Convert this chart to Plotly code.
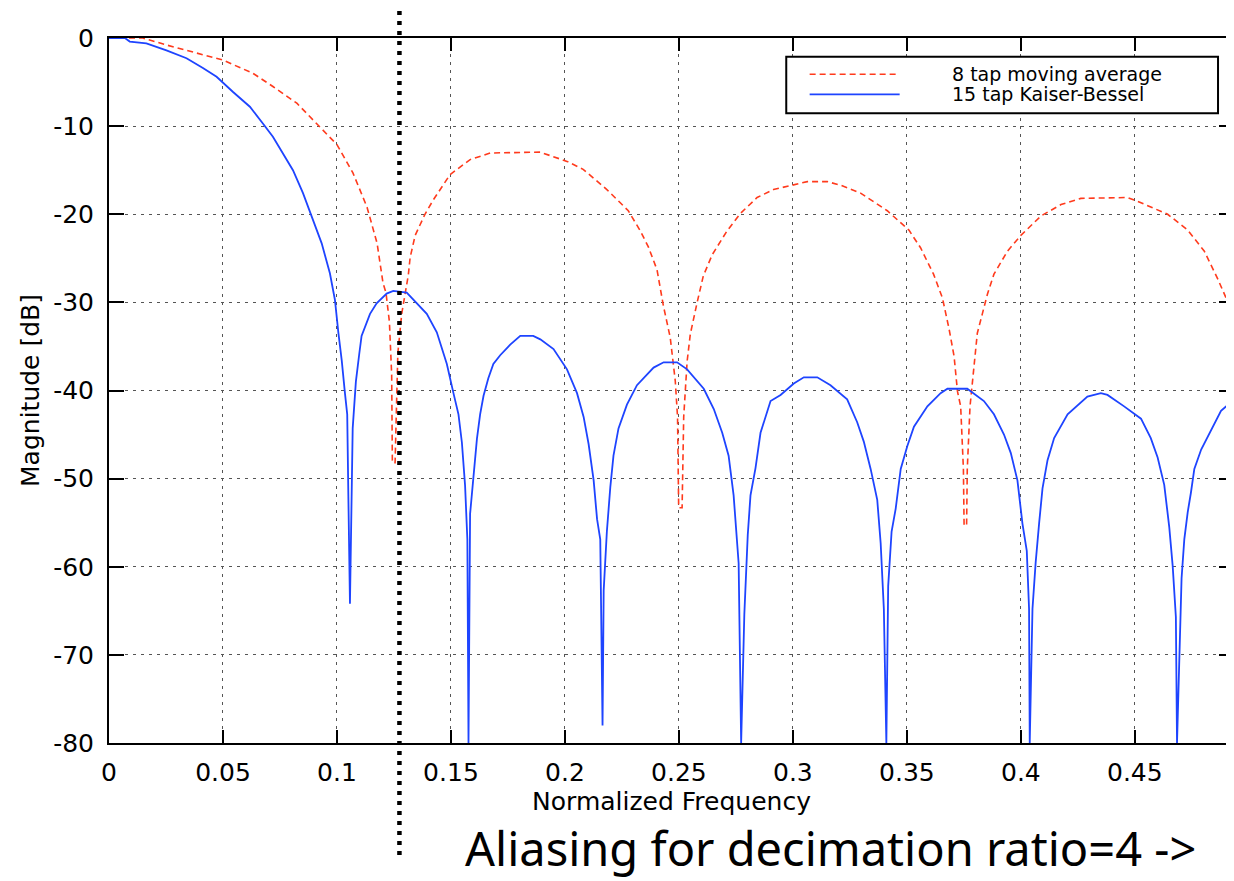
import plotly.graph_objects as go

# ---- data ----
freq_ma = [0.0, 0.0148, 0.0253, 0.0499, 0.0631, 0.0719, 0.0824, 0.0925, 0.1000, 0.1070,
           0.1132, 0.1176, 0.1202, 0.1215, 0.1230, 0.1240, 0.1243,
           0.1255, 0.1267, 0.1284, 0.1303, 0.1313, 0.1321, 0.1343, 0.1386, 0.1422,
           0.1496, 0.1584, 0.1672, 0.1891, 0.2009, 0.2080, 0.2184, 0.2278, 0.2331,
           0.2366, 0.2404, 0.2432, 0.2462, 0.2484, 0.2494, 0.2499,
           0.2514, 0.2521, 0.2536, 0.2550, 0.2580, 0.2607, 0.2646, 0.2711, 0.2770,
           0.2843, 0.2915, 0.3003, 0.3063, 0.3151, 0.3209, 0.3297, 0.3414, 0.3509,
           0.3560, 0.3617, 0.3656, 0.3685, 0.3707, 0.3722, 0.3736, 0.3748, 0.3751,
           0.3762, 0.3765, 0.3777, 0.3792, 0.3809, 0.3831, 0.3853, 0.3882, 0.3941,
           0.4000, 0.4088, 0.4176, 0.4263, 0.4468, 0.4527, 0.4644, 0.4732, 0.4805,
           0.4863, 0.4907, 0.4935]
mag_ma = [0.0, 0.0, -0.8, -2.5, -4.0, -5.5, -7.4, -10.1, -12.1, -15.3,
          -19.2, -23.3, -27.8, -28.9, -32.2, -38.2, -48.2,
          -48.2, -35.8, -31.3, -28.1, -26.9, -24.9, -22.4, -20.0, -18.4,
          -15.5, -13.8, -13.05, -12.95, -14.0, -14.9, -17.2, -19.6, -21.9,
          -23.7, -26.3, -30.4, -34.0, -38.9, -43.0, -53.3,
          -53.3, -43.0, -36.7, -33.6, -30.0, -27.0, -24.6, -21.9, -19.9,
          -18.1, -17.2, -16.7, -16.3, -16.3, -16.7, -17.6, -19.6, -21.8,
          -23.8, -26.8, -29.5, -33.0, -36.1, -40.1, -41.8, -48.9, -55.3,
          -55.3, -48.9, -41.8, -37.5, -33.5, -31.3, -29.1, -26.8, -24.2,
          -22.4, -20.2, -18.9, -18.2, -18.1, -18.7, -20.0, -21.8, -24.2,
          -27.3, -29.9, -34.0]

freq_kb = [0.0, 0.0070, 0.0091, 0.0164, 0.0252, 0.0340, 0.0412, 0.0472, 0.0543, 0.0618,
           0.0675, 0.0719, 0.0763, 0.0807, 0.0851, 0.0895, 0.0933, 0.0969, 0.0991,
           0.1006, 0.1021, 0.1035, 0.1045, 0.1050, 0.1057,
           0.1069, 0.1083, 0.1098, 0.1108, 0.1145, 0.1174, 0.1218, 0.1247, 0.1306,
           0.1394, 0.1438, 0.1482, 0.1511, 0.1533, 0.1548, 0.1562, 0.1572, 0.1577,
           0.1584, 0.1599, 0.1614, 0.1628, 0.1643, 0.1664, 0.1686, 0.1716, 0.1760,
           0.1804, 0.1861, 0.1892, 0.1950, 0.2009, 0.2053, 0.2082, 0.2104, 0.2126,
           0.2141, 0.2155, 0.2165,
           0.2170, 0.2184, 0.2199, 0.2213, 0.2235, 0.2272, 0.2316, 0.2389, 0.2433,
           0.2492, 0.2536, 0.2609, 0.2653, 0.2690, 0.2718, 0.2740, 0.2762, 0.2773,
           0.2787, 0.2802, 0.2814, 0.2836, 0.2858, 0.2902, 0.2946, 0.3004, 0.3048,
           0.3107, 0.3165, 0.3209, 0.3238, 0.3282, 0.3311, 0.3341, 0.3370, 0.3385,
           0.3399, 0.3410,
           0.3418, 0.3433, 0.3451, 0.3473, 0.3502, 0.3531, 0.3590, 0.3648, 0.3678,
           0.3765, 0.3838, 0.3882, 0.3926, 0.3956, 0.3985, 0.4007, 0.4026, 0.4036,
           0.4039,
           0.4051, 0.4065, 0.4080, 0.4095, 0.4117, 0.4146, 0.4205, 0.4292, 0.4351,
           0.4380, 0.4453, 0.4527, 0.4570, 0.4600, 0.4629, 0.4651, 0.4666, 0.4680,
           0.4685,
           0.4695, 0.4705, 0.4717, 0.4732, 0.4746, 0.4761, 0.4791, 0.4834, 0.4878,
           0.4936]
mag_kb = [0.0, 0.0, -0.4, -0.6, -1.4, -2.3, -3.4, -4.4, -6.1, -7.8,
          -9.7, -11.2, -13.1, -15.0, -17.6, -20.7, -23.3, -26.7, -29.7,
          -33.4, -36.6, -40.3, -42.7, -52.0, -64.2,
          -44.3, -39.0, -35.8, -33.8, -31.3, -30.1, -29.0, -28.7, -28.9,
          -31.3, -33.4, -37.0, -40.3, -42.7, -45.9, -50.8, -56.9, -80.0,
          -54.0, -49.6, -45.5, -42.7, -40.6, -38.6, -37.0, -36.0, -34.8,
          -33.8, -33.8, -34.2, -35.3, -37.6, -40.3, -43.0, -46.1, -50.2,
          -54.6, -56.9, -78.0,
          -62.7, -56.0, -51.0, -47.4, -44.3, -41.6, -39.4, -37.4, -36.8,
          -36.8, -37.6, -39.8, -42.1, -44.8, -47.4, -51.9, -59.6, -80.0,
          -65.4, -56.4, -51.9, -48.8, -44.8, -41.2, -40.5, -39.2, -38.5,
          -38.5, -39.4, -40.3, -41.0, -43.6, -45.8, -48.9, -52.4, -57.3,
          -64.8, -80.0,
          -62.2, -56.0, -53.4, -48.9, -46.3, -44.1, -41.8, -40.3, -39.8,
          -39.8, -41.2, -42.7, -45.0, -47.1, -50.2, -55.1, -58.2, -64.8,
          -80.0,
          -64.8, -59.5, -55.1, -51.1, -47.9, -45.4, -42.7, -40.7, -40.3,
          -40.5, -41.8, -43.2, -45.4, -47.6, -50.7, -55.5, -59.9, -65.7,
          -80.0,
          -70.1, -61.3, -56.9, -53.8, -51.6, -48.9, -46.7, -44.5, -42.3,
          -41.0]

x_ticks = [0, 0.05, 0.1, 0.15, 0.2, 0.25, 0.3, 0.35, 0.4, 0.45]
x_tick_labels = ["0", "0.05", "0.1", "0.15", "0.2", "0.25", "0.3", "0.35", "0.4", "0.45"]
y_ticks = [0, -10, -20, -30, -40, -50, -60, -70, -80]
y_tick_labels = ["0", "-10", "-20", "-30", "-40", "-50", "-60", "-70", "-80"]

series_names = ["8 tap moving average", "15 tap Kaiser-Bessel"]
aliasing_freq = 0.1274
aliasing_text = "Aliasing for decimation ratio=4 ->"

RED = "#ff3a1c"
BLUE = "#1e44ff"
FONT = "DejaVu Sans"

fig = go.Figure()
fig.add_trace(go.Scatter(x=freq_ma, y=mag_ma, mode="lines", name=series_names[0],
                         line=dict(color=RED, width=1.6, dash="6px,4px"), showlegend=False))
fig.add_trace(go.Scatter(x=freq_kb, y=mag_kb, mode="lines", name=series_names[1],
                         line=dict(color=BLUE, width=1.8), showlegend=False))

# manual legend box (matches the reference's wide layout)
fig.add_shape(type="rect", xref="paper", yref="paper", x0=0.602, x1=0.9858, y0=0.8932, y1=0.9735,
              line=dict(color="black", width=2), fillcolor="white", layer="above")
fig.add_shape(type="line", xref="paper", yref="paper", x0=0.6228, x1=0.7028, y0=0.9485, y1=0.9485,
              line=dict(color=RED, width=1.6, dash="6px,4px"), layer="above")
fig.add_shape(type="line", xref="paper", yref="paper", x0=0.6228, x1=0.7028, y0=0.9199, y1=0.9199,
              line=dict(color=BLUE, width=1.8), layer="above")
fig.add_annotation(xref="paper", yref="paper", x=0.7475, y=0.9485, text=series_names[0],
                   showarrow=False, xanchor="left", yanchor="middle",
                   font=dict(family=FONT, size=19, color="black"))
fig.add_annotation(xref="paper", yref="paper", x=0.7475, y=0.9199, text=series_names[1],
                   showarrow=False, xanchor="left", yanchor="middle",
                   font=dict(family=FONT, size=19, color="black"))

# dotted aliasing marker
fig.add_shape(type="line", xref="x", yref="paper", x0=aliasing_freq, x1=aliasing_freq,
              y0=-0.1589, y1=1.0426, line=dict(color="black", width=4.5, dash="4px,6px"),
              layer="above")
fig.add_annotation(xref="paper", yref="paper", x=0.6415, y=-0.1955, text=aliasing_text,
                   showarrow=False, xanchor="center", yanchor="bottom", borderpad=0,
                   font=dict(family="Noto Sans", size=47, color="black"))

axis_common = dict(showline=True, linecolor="black", linewidth=2, mirror="ticks",
                   ticks="inside", tickcolor="black", tickwidth=1.5,
                   showgrid=True, gridcolor="#555555", gridwidth=1, griddash="3px,5px",
                   zeroline=False, tickfont=dict(family=FONT, size=25, color="black"))

fig.update_xaxes(range=[0, 0.4935], tickvals=x_ticks, ticktext=x_tick_labels, ticklen=13,
                 title=dict(text="Normalized Frequency", font=dict(family=FONT, size=25, color="black"),
                            standoff=3),
                 ticklabelstandoff=6, **axis_common)
fig.update_yaxes(range=[-80, 0], tickvals=y_ticks, ticktext=y_tick_labels, ticklen=15,
                 title=dict(text="Magnitude [dB]", font=dict(family=FONT, size=25, color="black"),
                            standoff=6),
                 ticklabelstandoff=8, **axis_common)

# the page adds an 8px body margin, so the figure is 8px smaller than the window
fig.update_layout(width=1226, height=873, plot_bgcolor="white", paper_bgcolor="white",
                  margin=dict(l=101, r=0, t=30, b=138, autoexpand=False), showlegend=False)

fig.write_html("out.html")
